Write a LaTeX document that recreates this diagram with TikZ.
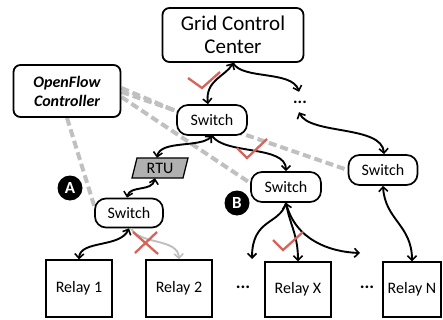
\documentclass[tikz,border=0pt]{standalone}
\usepackage{fontspec}
\setmainfont{Carlito}
\usetikzlibrary{arrows.meta}
\pgfdeclarelayer{bg}
\pgfsetlayers{bg,main}
\definecolor{chk}{RGB}{214,100,90}
\definecolor{ctlgray}{RGB}{192,192,192}
\begin{document}
\begin{tikzpicture}[x=1pt,y=-1pt,
  rbox/.style={draw, line width=1.8pt, rounded corners=7pt, fill=white, align=center, inner sep=2pt},
  pill/.style={draw, line width=1.7pt, rounded corners=11pt, fill=white, minimum width=70pt, minimum height=30pt, inner sep=1pt, font=\fontsize{16}{16}\selectfont},
  relay/.style={draw, line width=1.3pt, fill=white, minimum width=66pt, minimum height=57pt, inner sep=1pt, font=\fontsize{16}{16}\selectfont},
  tipb/.tip={Straight Barb[length=4.5pt,width=9pt,line width=1.6pt]},
  conn/.style={line width=1.9pt, tipb-tipb},
  conn1/.style={line width=1.9pt, -tipb},
  ctl/.style={line width=4pt, ctlgray, dash pattern=on 8pt off 4pt},
  redmk/.style={draw=chk, line width=2.3pt},
  lbl/.style={circle, fill=black, text=white, minimum size=25pt, inner sep=0pt, font=\bfseries\fontsize{17}{17}\selectfont}
]
\useasboundingbox (0,0) rectangle (443,320);

% nodes
\node[rbox, minimum width=141pt, minimum height=54pt, font=\fontsize{21}{23}\selectfont] (gcc) at (233,35) {Grid Control\\Center};
\node[rbox, minimum width=107pt, minimum height=52pt, font=\fontsize{16}{19}\selectfont\bfseries\itshape] (ofc) at (67,91) {OpenFlow\\Controller};
\node[pill] (sw) at (212,120) {Switch};
\node[minimum height=20pt, inner sep=1pt, font=\bfseries\fontsize{17}{17}\selectfont] (dt) at (300,102) {...};
\node[pill, minimum width=69pt] (swr) at (383,170) {Switch};
\node[pill] (swb) at (286,187) {Switch};
\node[pill, minimum width=68pt, minimum height=29pt] (swa) at (129,213) {Switch};
\draw[line width=1.3pt, fill=gray!62] (137,158) -- (188,158) -- (183,178) -- (132,178) -- cycle;
\node[minimum width=51pt, minimum height=20pt, inner sep=0pt, font=\fontsize{16}{16}\selectfont] (rtu) at (160,168) {RTU};
\node[lbl] (ca) at (70,188) {A};
\node[lbl] (cb) at (237,203) {B};
\node[relay] (r1) at (79,288.5) {Relay 1};
\node[relay] (r2) at (179,288.5) {Relay 2};
\node[relay, minimum height=55pt] (rx) at (298,289.5) {Relay X};
\node[relay, minimum width=58pt, minimum height=55pt] (rn) at (412,289.5) {Relay N};
\node[inner sep=0pt, font=\bfseries\fontsize{18}{18}\selectfont] (d1) at (243,287) {...};
\node[inner sep=0pt, font=\bfseries\fontsize{18}{18}\selectfont] (d2) at (367,287) {...};
\coordinate (eleft) at (252,259);
\coordinate (eright) at (360,253);

% controller links
\begin{pgfonlayer}{bg}
\draw[ctl] ([yshift=3pt]ofc.east) -- ([xshift=2pt,yshift=8pt]sw.west);
\draw[ctl] ([yshift=-1pt]ofc.east) -- (swr.west);
\draw[ctl] ([yshift=-6pt]ofc.east) -- ([yshift=4pt]swb.west);
\draw[ctl] ([xshift=0pt]ofc.south) -- ([xshift=1pt,yshift=4pt]swa.west);
\end{pgfonlayer}

% data links
\draw[conn] (gcc.south) .. controls (226,76) and (205,80) .. ([xshift=-4pt]sw.north);
\draw[conn1] (gcc.south) .. controls (242,80) and (292,70) .. ([xshift=-1pt]dt.north);
\draw[conn] ([xshift=-1pt]dt.south) .. controls (310,135) and (382,125) .. ([xshift=1pt]swr.north);
\draw[conn] (sw.south) .. controls (200,148) and (160,140) .. ([xshift=-3pt]rtu.north);
\draw[conn1] (sw.south) .. controls (225,155) and (286,145) .. (swb.north);
\draw[conn] ([xshift=-5pt]rtu.south) .. controls (152,192) and (130,185) .. ([xshift=-2pt]swa.north);
\draw[conn] (swa.south) .. controls (120,248) and (80,240) .. (r1.north);
\draw[line width=1.9pt, gray!50, -tipb] ([xshift=2pt]swa.south) .. controls (140,245) and (178,238) .. (r2.north);
\draw[conn1] (swb.south) .. controls (280,225) and (252,218) .. (eleft);
\draw[conn] (swb.south) .. controls (290,225) and (298,235) .. (rx.north);
\draw[conn1] (swb.south) .. controls (295,240) and (330,252) .. (eright);
\draw[conn] (swr.south) .. controls (385,220) and (412,225) .. (rn.north);

% marks
\draw[redmk] (188,78) -- (202,88) -- (220,72);
\draw[redmk] (237,148) -- (247,158) -- (267,139);
\draw[redmk] (273,240) -- (283,250) -- (303,232);
\draw[redmk] (133,232) -- (158,254);
\draw[redmk] (135,253) -- (157,232);
\end{tikzpicture}
\end{document}
